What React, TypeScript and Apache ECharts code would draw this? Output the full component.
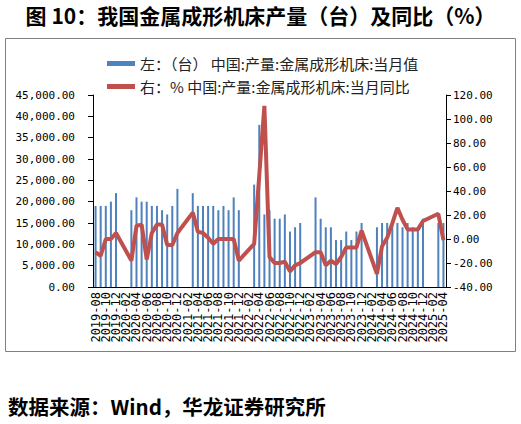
import React, { useEffect, useRef } from "react";
import * as echarts from "echarts";

const months = [
  "2019-08", "2019-09", "2019-10", "2019-11", "2019-12",
  "2020-01", "2020-02", "2020-03", "2020-04", "2020-05", "2020-06", "2020-07", "2020-08", "2020-09", "2020-10", "2020-11", "2020-12",
  "2021-01", "2021-02", "2021-03", "2021-04", "2021-05", "2021-06", "2021-07", "2021-08", "2021-09", "2021-10", "2021-11", "2021-12",
  "2022-01", "2022-02", "2022-03", "2022-04", "2022-05", "2022-06", "2022-07", "2022-08", "2022-09", "2022-10", "2022-11", "2022-12",
  "2023-01", "2023-02", "2023-03", "2023-04", "2023-05", "2023-06", "2023-07", "2023-08", "2023-09", "2023-10", "2023-11", "2023-12",
  "2024-01", "2024-02", "2024-03", "2024-04", "2024-05", "2024-06", "2024-07", "2024-08", "2024-09", "2024-10", "2024-11", "2024-12",
  "2025-01", "2025-02", "2025-03", "2025-04",
];

// 当月值（台）
const output2019 = [19000, 19000, 19000, 20000, 22000];
const output2020 = [null, null, 18000, 21000, 20000, 20000, 19000, 19000, 18000, 17000, 19000, 23000];
const output2021 = [null, null, 22000, 19000, 19000, 19000, 19000, 18000, 19000, 18000, 21000, 18000];
const output2022 = [null, null, 24000, 38000, 17000, 18000, 16000, 16000, 17000, 13000, 14000, 15000];
const output2023 = [null, null, 21000, 16000, 14000, 14000, 11000, 11000, 13000, 11000, 13000, 15000];
const output2024 = [null, null, 14000, 15000, 15000, 15000, 15000, 14000, 15000, 14000, 14000, 16000];
const output2025 = [null, null, 15000, 15000];

// 当月同比（%）
const yoy2019 = [-11, -14, 0, 0, 5];
const yoy2020 = [null, null, -18, 11, 12, -17, 5, 12, 12, -5, -5, 5];
const yoy2021 = [null, null, 22, 6, 5, 1, -4, 0, 0, 0, 0, -18];
const yoy2022 = [null, null, -4, 53, 111, -15, -20, -20, -19, -27, -22, -20];
const yoy2023 = [null, null, -11, -11, -22, -18, -21, -15, -7, -7, -7, 7];
const yoy2024 = [null, null, -29, -6, 1, 13, 26, 16, 8, 8, 8, 15];
const yoy2025 = [null, null, 21, -1];

const output = [...output2019, ...output2020, ...output2021, ...output2022, ...output2023, ...output2024, ...output2025];
const yoy = [...yoy2019, ...yoy2020, ...yoy2021, ...yoy2022, ...yoy2023, ...yoy2024, ...yoy2025];

const barName = "左：（台） 中国:产量:金属成形机床:当月值";
const lineName = "右：% 中国:产量:金属成形机床:当月同比";
const titleText = "图 10：我国金属成形机床产量（台）及同比（%）";
const sourceText = "数据来源：Wind，华龙证券研究所";

const numFont = "DejaVu Sans Mono";
const cjkFont = "Noto Sans CJK SC";

const xLabelStyle = {
  rotate: 90,
  margin: 5,
  hideOverlap: false,
  fontFamily: numFont,
  fontSize: 12,
  color: "#000000",
};

export default function App() {
  const ref = useRef<HTMLDivElement>(null);

  useEffect(() => {
    document.body.style.margin = "0";
    const chart = echarts.init(ref.current!, null, { renderer: "svg" });
    chart.setOption({
      animation: false,
      backgroundColor: "#ffffff",
      graphic: [
        {
          type: "text",
          left: "center",
          top: 4,
          style: {
            text: titleText,
            font: `bold 21px "${cjkFont}"`,
            fill: "#000000",
          },
        },
        {
          type: "rect",
          shape: { x: 5.5, y: 38.5, width: 510, height: 313 },
          style: { fill: "none", stroke: "#808080", lineWidth: 1 },
          silent: true,
        },
        {
          type: "text",
          left: 8,
          top: 396,
          style: {
            text: sourceText,
            font: `bold 20.5px "${cjkFont}"`,
            fill: "#000000",
          },
        },
      ],
      legend: {
        orient: "vertical",
        left: 102,
        top: 51,
        itemWidth: 28,
        itemHeight: 5,
        itemGap: 8,
        icon: "rect",
        textStyle: { fontFamily: cjkFont, fontSize: 15, color: "#222222" },
        data: [barName, lineName],
      },
      grid: { left: 93, right: 75, top: 95, bottom: 137, containLabel: false },
      xAxis: [
        {
          type: "category",
          data: months,
          boundaryGap: true,
          position: "bottom",
          axisLine: { lineStyle: { color: "#000000", width: 1 } },
          axisTick: { interval: 1, length: 4, lineStyle: { color: "#000000" } },
          axisLabel: {
            ...xLabelStyle,
            interval: (idx: number) => idx % 4 === 0,
            showMinLabel: true,
            showMaxLabel: true,
          },
        },
        {
          type: "category",
          data: months,
          boundaryGap: true,
          position: "bottom",
          offset: 0,
          axisLine: { show: false },
          axisTick: { show: false },
          axisLabel: {
            ...xLabelStyle,
            interval: (idx: number) => idx % 4 === 2,
          },
        },
      ],
      yAxis: [
        {
          type: "value",
          min: 0,
          max: 45000,
          interval: 5000,
          axisLine: { show: true, lineStyle: { color: "#000000" } },
          axisTick: { show: true, length: 5, lineStyle: { color: "#000000" } },
          splitLine: { show: false },
          axisLabel: {
            margin: 18,
            fontFamily: numFont,
            fontSize: 11,
            color: "#000000",
            showMinLabel: true,
            showMaxLabel: true,
            formatter: (v: number) =>
              v.toLocaleString("en-US", { minimumFractionDigits: 2, maximumFractionDigits: 2 }),
          },
        },
        {
          type: "value",
          min: -40,
          max: 120,
          interval: 20,
          position: "right",
          axisLine: { show: true, lineStyle: { color: "#000000" } },
          axisTick: { show: true, length: 5, lineStyle: { color: "#000000" } },
          splitLine: { show: false },
          axisLabel: {
            margin: 7,
            fontFamily: numFont,
            fontSize: 11,
            color: "#000000",
            showMinLabel: true,
            showMaxLabel: true,
            formatter: (v: number) => v.toFixed(2),
          },
        },
      ],
      series: [
        {
          name: barName,
          type: "bar",
          xAxisIndex: 0,
          yAxisIndex: 0,
          data: output,
          barWidth: 2,
          itemStyle: { color: "#4F81BD" },
        },
        {
          name: lineName,
          type: "line",
          xAxisIndex: 0,
          yAxisIndex: 1,
          data: yoy,
          connectNulls: true,
          symbol: "none",
          lineStyle: { color: "#C0504D", width: 4 },
          itemStyle: { color: "#C0504D" },
        },
      ],
    });
    return () => chart.dispose();
  }, []);

  return <div ref={ref} style={{ width: 521, height: 424 }} />;
}
